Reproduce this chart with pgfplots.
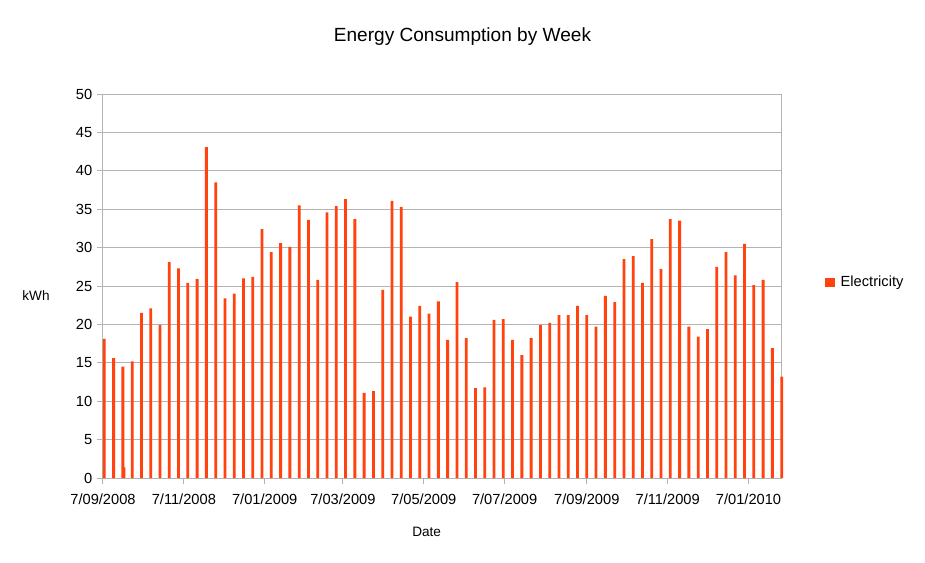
\documentclass[border=0pt]{standalone}
\usepackage{fontspec}
\setmainfont{Liberation Sans}
\usepackage{pgfplots}
\usepackage{pgfplotstable}
\pgfplotsset{compat=1.18}

\definecolor{barcol}{HTML}{FF420E}
\definecolor{gridgray}{HTML}{B3B3B3}

% day counted from 7/09/2008, weekly readings (one extra reading at day 15.8)
\pgfplotstableread{
day  kwh
1    18.1
8    15.6
15   14.5
15.8 1.4
22   15.2
29   21.5
36   22.1
43   19.9
50   28.1
57   27.3
64   25.4
71   25.9
78   43.1
85   38.5
92   23.4
99   24.0
106  26.0
113  26.2
120  32.4
127  29.4
134  30.6
141  30.1
148  35.5
155  33.6
162  25.8
169  34.6
176  35.4
183  36.3
190  33.7
197  11.1
204  11.3
211  24.5
218  36.1
225  35.3
232  21.0
239  22.4
246  21.4
253  23.0
260  18.0
267  25.5
274  18.2
281  11.7
288  11.8
295  20.6
302  20.7
309  18.0
316  16.0
323  18.2
330  19.9
337  20.2
344  21.2
351  21.2
358  22.4
365  21.2
372  19.7
379  23.7
386  22.9
393  28.5
400  28.9
407  25.4
414  31.1
421  27.2
428  33.7
435  33.5
442  19.7
449  18.4
456  19.4
463  27.5
470  29.4
477  26.4
484  30.5
491  25.1
498  25.8
505  16.9
512  13.2
}\energy

\begin{document}
\begin{tikzpicture}
\useasboundingbox (-77.25pt,-63pt) rectangle (616.5pt,358.5pt);
\fill[white] (-77.25pt,-63pt) rectangle (616.5pt,358.5pt);
\begin{axis}[
    at={(0,0)}, anchor=south west,
    scale only axis,
    width=508.5pt, height=288pt,
    xmin=0, xmax=511.5,
    ymin=0, ymax=50,
    clip=false,
    ytick={0,5,...,50},
    xtick={0,61,122,181,242,303,365,426,487},
    xticklabels={7/09/2008,7/11/2008,7/01/2009,7/03/2009,7/05/2009,7/07/2009,7/09/2009,7/11/2009,7/01/2010},
    xtick pos=lower, ytick pos=left,
    tick align=outside,
    major tick length=4.5pt,
    tick style={gridgray, line width=0.75pt},
    axis line style={gridgray, line width=0.75pt},
    ymajorgrids=true,
    grid style={gridgray, line width=0.75pt},
    /pgf/number format/assume math mode=true,
    tick label style={font=\fontsize{11}{13}\selectfont},
    xticklabel style={yshift=-3.5pt},
    title={Energy Consumption by Week},
    title style={at={(axis description cs:0.5302,1.128)}, anchor=center, font=\fontsize{14.3}{17}\selectfont},
    xlabel={Date},
    xlabel style={at={(axis description cs:0.4774,-0.14)}, anchor=center, font=\fontsize{10.2}{12}\selectfont},
    ylabel={kWh},
    ylabel style={at={(axis description cs:-0.0988,0.474)}, rotate=-90, anchor=center, font=\fontsize{10.2}{12}\selectfont},
    legend style={at={(axis description cs:1.065,0.51)}, anchor=west, draw=none, fill=none,
        inner sep=0pt, font=\fontsize{11}{13}\selectfont},
    legend image code/.code={\fill[barcol] (0pt,-3.5pt) rectangle (7pt,3.5pt); \path (9.5pt,0pt);},
]
\addplot[ybar, bar width=2.1pt, bar shift=0pt, fill=barcol, draw=none] table[x=day, y=kwh] {\energy};
\addlegendentry{Electricity}
\end{axis}
\end{tikzpicture}
\end{document}
